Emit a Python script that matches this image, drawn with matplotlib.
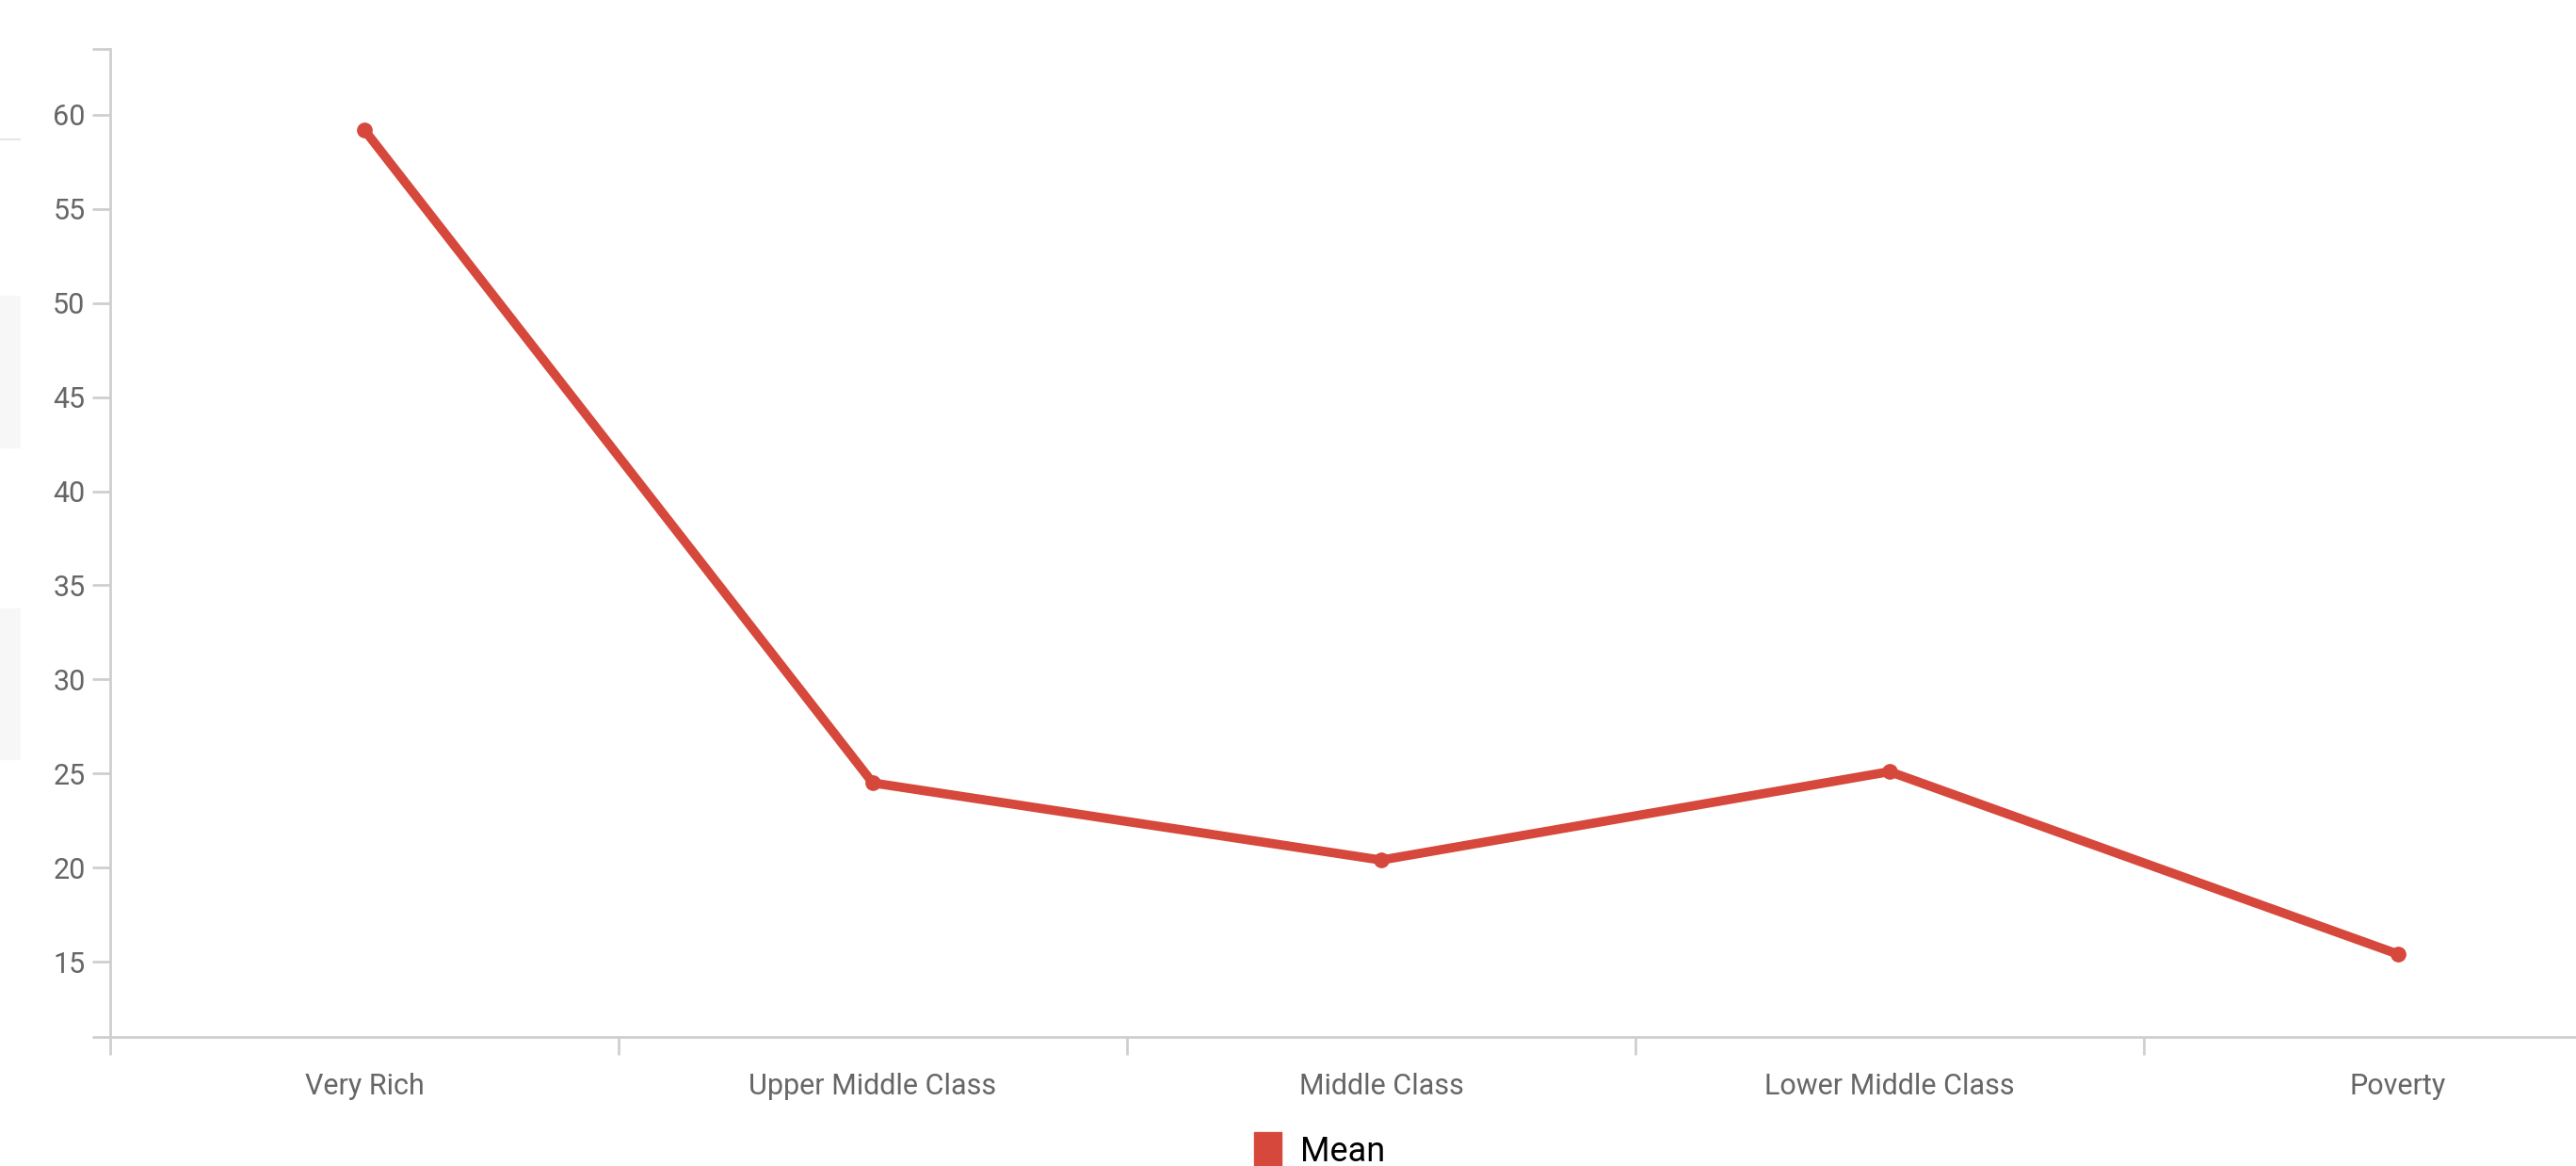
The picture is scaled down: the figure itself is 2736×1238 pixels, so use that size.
import matplotlib
matplotlib.use("Agg")
import matplotlib.pyplot as plt
from matplotlib.patches import Patch, Rectangle
from matplotlib.lines import Line2D

# data
categories = ["Very Rich", "Upper Middle Class", "Middle Class",
              "Lower Middle Class", "Poverty"]
mean_values = [59.2, 24.5, 20.4, 25.1, 15.4]
y_ticks = [15, 20, 25, 30, 35, 40, 45, 50, 55, 60]

W, H = 2736, 1238
RED = "#d6483b"
AXIS_GREY = "#cfcfcf"
TEXT_GREY = "#666666"

plt.rcParams["font.family"] = ["Roboto", "DejaVu Sans"]

fig = plt.figure(figsize=(W / 100, H / 100), dpi=100)
ax = fig.add_axes([117 / W, 137 / H, 1 - 117 / W, (1101 - 52) / H])

x = list(range(len(categories)))
ax.plot(x, mean_values, color=RED, linewidth=7, marker="o",
        markersize=11, solid_capstyle="round", label="Mean", zorder=3)

ax.set_xlim(-0.5, 4.35)
ax.set_ylim(11, 63.5)

# axis look
for side in ["top", "right"]:
    ax.spines[side].set_visible(False)
for side in ["left", "bottom"]:
    ax.spines[side].set_color(AXIS_GREY)
    ax.spines[side].set_linewidth(2)

ax.set_yticks(y_ticks)
ax.set_yticks([11, 63.5], minor=True)
ax.tick_params(axis="y", which="both", length=14, width=2, color=AXIS_GREY,
               labelsize=22, labelcolor=TEXT_GREY, pad=5)

ax.set_xticks(x)
ax.set_xticklabels(categories)
ax.set_xticks([i - 0.5 for i in x], minor=True)
ax.tick_params(axis="x", which="major", length=0, labelsize=22,
               labelcolor=TEXT_GREY, pad=27)
ax.tick_params(axis="x", which="minor", length=14, width=2, color=AXIS_GREY)

for sp in ax.spines.values():
    sp.set_clip_on(False)

# faint leftover UI boxes on the left edge
fig.add_artist(Line2D([0, 21 / W], [1 - 148 / H, 1 - 148 / H],
                      color="#e6e6e6", linewidth=1.5))
fig.add_artist(Rectangle((0, 1 - 475 / H), 21 / W, 161 / H,
                         color="#f7f7f7", zorder=0))
fig.add_artist(Rectangle((0, 1 - 806 / H), 21 / W, 160 / H,
                         color="#f7f7f7", zorder=0))

fig.legend(handles=[Patch(color=RED, label="Mean")], loc="upper left",
           bbox_to_anchor=(1318 / W, 1 - 1188 / H), frameon=False,
           fontsize=26, handlelength=0.8, handleheight=1.2,
           handletextpad=0.55, borderaxespad=0)

fig.savefig("out.png", dpi=100, facecolor="white")
